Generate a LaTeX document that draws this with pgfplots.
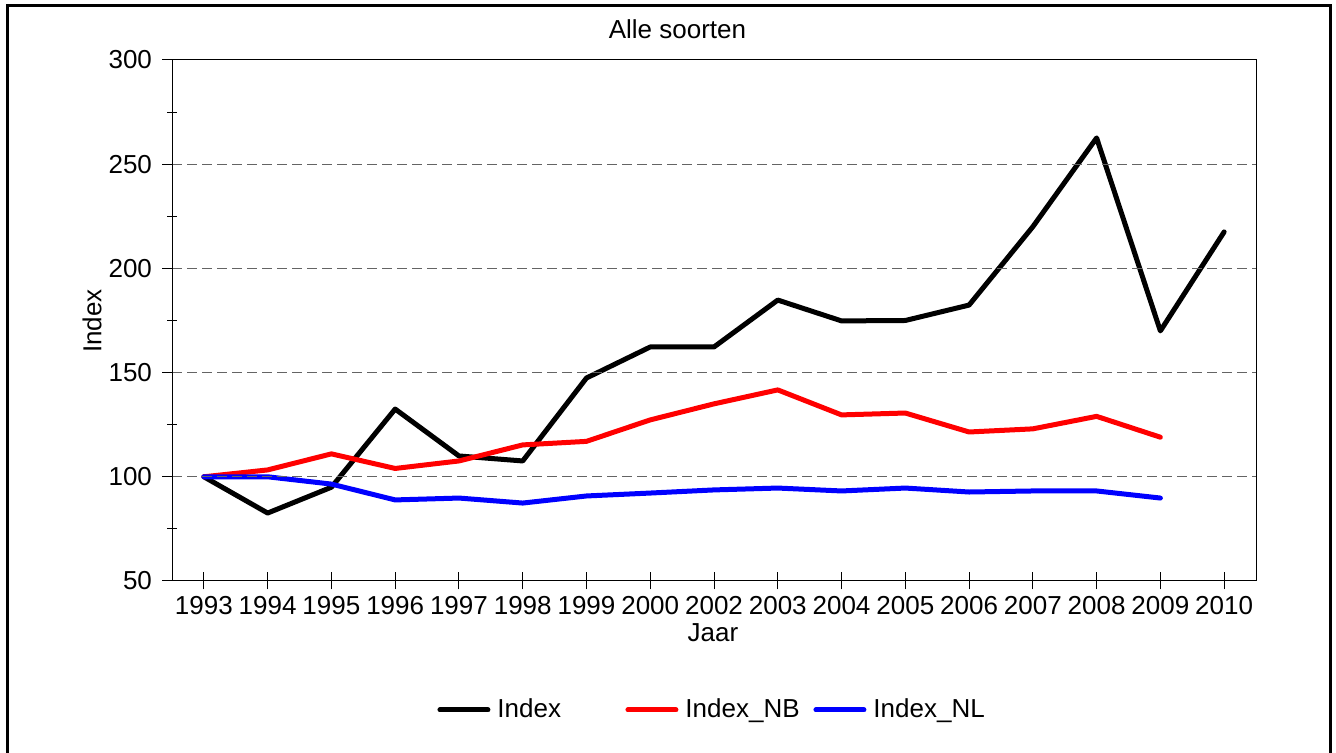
\documentclass[border=0pt]{standalone}
\usepackage{fontspec}
\setmainfont{Liberation Sans}
\usepackage{pgfplots}
\pgfplotsset{compat=1.18}

\definecolor{gridgray}{RGB}{100,100,100}

\begin{document}
\fontsize{13}{15.6}\selectfont
\begin{tikzpicture}
\begin{axis}[
    at={(86pt,86pt)}, anchor=south west,
    scale only axis,
    width=542pt, height=260.5pt,
    xmin=-0.5, xmax=16.5,
    ymin=50, ymax=300,
    xtick={0,...,16},
    xticklabels={1993,1994,1995,1996,1997,1998,1999,2000,2002,2003,2004,2005,2006,2007,2008,2009,2010},
    ytick={100,150,200,250},
    minor ytick={75,125,175,225,275},
    extra y ticks={50,300},
    extra y tick style={grid=none},
    xtick pos=bottom, ytick pos=left,
    xtick align=center, ytick align=outside,
    major tick length=5pt, minor tick length=5pt,
    every minor y tick/.style={xshift=2.5pt},
    extra x ticks={0,...,16},
    extra x tick labels={},
    extra x tick style={major tick length=8.5pt, tick align=center},
    axis on top,
    axis line style={line width=0.5pt},
    every tick/.style={black, line width=0.5pt},
    ymajorgrids,
    grid style={gridgray, line width=0.5pt, dash pattern=on 5pt off 2.5pt},
    tick label style={font=\fontsize{13}{15.6}\selectfont},
    /pgf/number format/assume math mode=true,
    yticklabel style={xshift=-0.5pt},
    xticklabel style={yshift=-0.5pt},
    xlabel={Jaar},
    xlabel style={at={(axis description cs:0.499,-0.0998)}, anchor=center, font=\fontsize{13}{15.6}\selectfont},
    ylabel={Index},
    ylabel style={at={(axis description cs:-0.0738,0.499)}, anchor=center, rotate=0, font=\fontsize{13}{15.6}\selectfont},
    legend columns=3,
    legend style={draw=none, fill=none, inner sep=0pt,
        at={(0.2445,-0.2476)}, anchor=west,
        font=\fontsize{13}{15.6}\selectfont,
        nodes={inner sep=0pt},
        /tikz/every odd column/.append style={column sep=3.5pt},
        /tikz/every even column/.append style={column sep=0pt}},
    legend image code/.code={\draw[#1, line cap=round] (1.25pt,0pt) -- (25.25pt,0pt);},
    every axis plot/.append style={line width=2.5pt, line join=round, line cap=round},
]
\addplot[black] coordinates {
    (0,100) (1,82.6) (2,95) (3,132.5) (4,110) (5,107.6) (6,147.4) (7,162.3)
    (8,162.3) (9,184.8) (10,174.8) (11,175) (12,182.4) (13,220) (14,262.6)
    (15,170) (16,217.5)
};
\addlegendentry{\makebox[64pt][l]{Index}}
\addplot[red] coordinates {
    (0,100) (1,103.3) (2,111) (3,104) (4,107.6) (5,115.3) (6,117) (7,127.3)
    (8,135) (9,141.7) (10,129.7) (11,130.6) (12,121.5) (13,123) (14,129)
    (15,119)
};
\addlegendentry{\makebox[64pt][l]{Index\_NB}}
\addplot[blue] coordinates {
    (0,100) (1,100) (2,96.5) (3,88.9) (4,89.8) (5,87.4) (6,90.8) (7,92.2)
    (8,93.7) (9,94.6) (10,93.2) (11,94.6) (12,92.7) (13,93.2) (14,93.2)
    (15,89.8)
};
\addlegendentry{Index\_NL}
\end{axis}
\node[anchor=center, inner sep=0pt, font=\fontsize{13}{15.6}\selectfont] at (338.75pt,362pt) {Alle soorten};
\draw[line width=1.5pt] (3.75pt,0pt) -- (3.75pt,373.5pt) -- (665.25pt,373.5pt) -- (665.25pt,0pt);
\pgfresetboundingbox
\useasboundingbox (0,0) rectangle (668pt,376.5pt);
\end{tikzpicture}
\end{document}
